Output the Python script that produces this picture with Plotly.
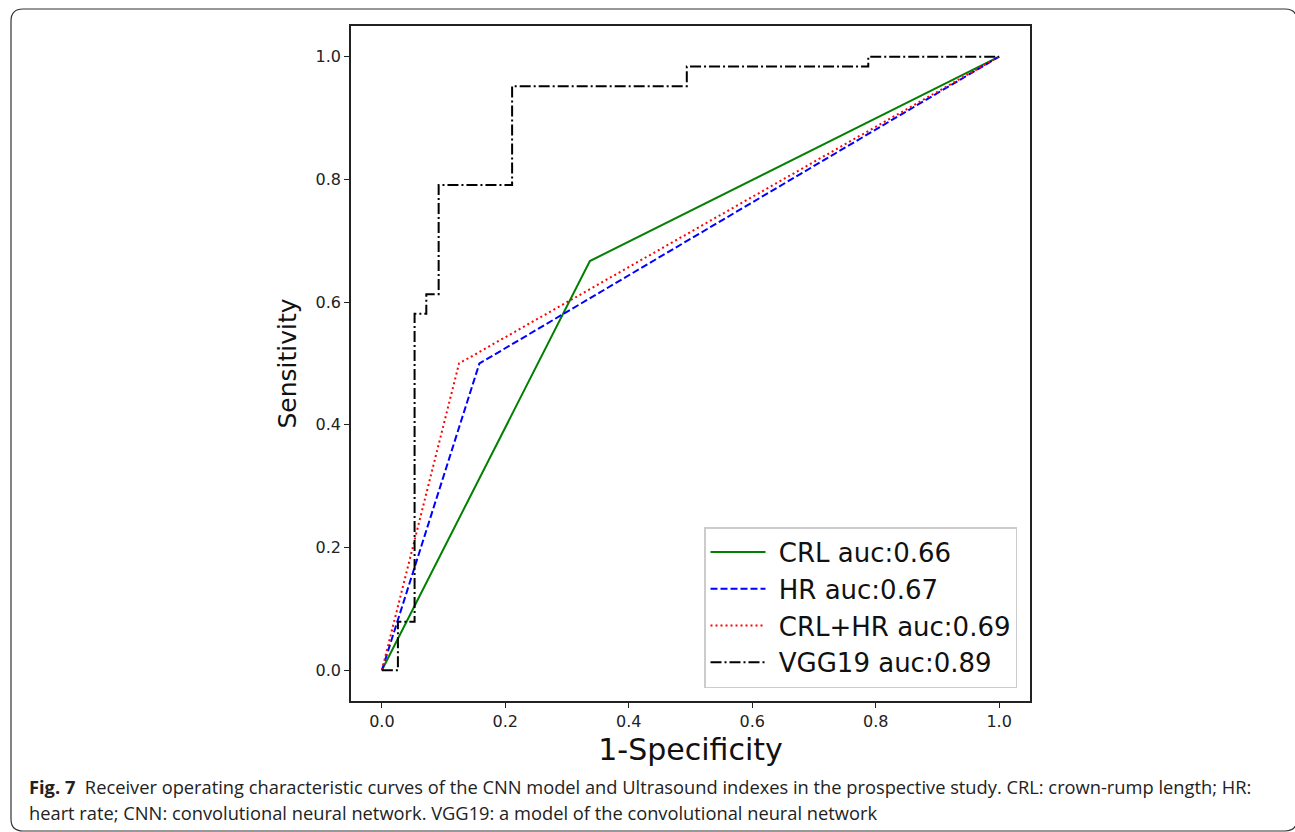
import plotly.graph_objects as go

# ---- data ----
crl_fpr = [0.0, 0.337, 1.0]
crl_tpr = [0.0, 0.667, 1.0]
hr_fpr = [0.0, 0.158, 1.0]
hr_tpr = [0.0, 0.5, 1.0]
crlhr_fpr = [0.0, 0.125, 1.0]
crlhr_tpr = [0.0, 0.5, 1.0]
vgg_fpr = [0.0, 0.026, 0.026, 0.053, 0.053, 0.072, 0.072, 0.092, 0.092, 0.211, 0.211, 0.494, 0.494, 0.788, 0.788, 1.0]
vgg_tpr = [0.0, 0.0, 0.079, 0.079, 0.581, 0.581, 0.613, 0.613, 0.791, 0.791, 0.952, 0.952, 0.984, 0.984, 1.0, 1.0]
labels = ["CRL auc:0.66", "HR auc:0.67", "CRL+HR auc:0.69", "VGG19 auc:0.89"]
ticks = [0.0, 0.2, 0.4, 0.6, 0.8, 1.0]
tick_text = ["0.0", "0.2", "0.4", "0.6", "0.8", "1.0"]
caption1 = "<b>Fig. 7</b>  Receiver operating characteristic curves of the CNN model and Ultrasound indexes in the prospective study. CRL: crown-rump length; HR:"
caption2 = "heart rate; CNN: convolutional neural network. VGG19: a model of the convolutional neural network"

W, H = 1295, 832
L, R, T, B = 351, 1030, 26, 701


def px(x):
    return (x - L) / (R - L)


def py(y):
    return (B - y) / (B - T)


gap = "\u00a0"

fig = go.Figure()
fig.add_trace(go.Scatter(x=crl_fpr, y=crl_tpr, mode="lines", name=gap + labels[0],
                         line=dict(color="#008000", width=2), legendgroup="a"))
fig.add_trace(go.Scatter(x=hr_fpr, y=hr_tpr, mode="lines", name=gap + labels[1],
                         line=dict(color="#0000ff", width=2, dash="7px,3px"), legendgroup="b"))
fig.add_trace(go.Scatter(x=crlhr_fpr, y=crlhr_tpr, mode="lines", name=gap + labels[2],
                         line=dict(color="#ff0000", width=2, dash="2px,3px"), legendgroup="c"))
fig.add_trace(go.Scatter(x=vgg_fpr, y=vgg_tpr, mode="lines", name=gap + labels[3],
                         line=dict(color="#000000", width=2, dash="11px,3px,2px,3px"), legendgroup="d"))

axis_common = dict(
    showline=True, linecolor="#222222", linewidth=1.5, mirror=True,
    ticks="outside", ticklen=5, tickwidth=1.2, tickcolor="#222222",
    showgrid=False, zeroline=False,
    tickvals=ticks, ticktext=tick_text,
    tickfont=dict(family="DejaVu Sans", size=16, color="#222222"),
)

fig.update_layout(
    width=W, height=H,
    margin=dict(l=L, r=W - R, t=T, b=H - B),
    paper_bgcolor="white", plot_bgcolor="white",
    xaxis=dict(range=[-0.05, 1.05], title=dict(text="1-Specificity", standoff=9,
               font=dict(family="DejaVu Sans", size=30, color="#111111")), **axis_common),
    yaxis=dict(range=[-0.05, 1.05], title=dict(text="Sensitivity", standoff=12,
               font=dict(family="DejaVu Sans", size=25, color="#111111")), **axis_common),
    legend=dict(x=px(1017), y=py(688), xanchor="right", yanchor="bottom",
                bgcolor="white", bordercolor="#cccccc", borderwidth=1.5,
                font=dict(family="DejaVu Sans", size=26, color="#111111"),
                itemwidth=55, tracegroupgap=5, traceorder="normal"),
    showlegend=True,
)

# outer rounded frame
x0, y0, x1, y1, r = 11, 9, 1297, 831, 12
path = (f"M {px(x0 + r)},{py(y0)} L {px(x1 - r)},{py(y0)} Q {px(x1)},{py(y0)} {px(x1)},{py(y0 + r)} "
        f"L {px(x1)},{py(y1 - r)} Q {px(x1)},{py(y1)} {px(x1 - r)},{py(y1)} "
        f"L {px(x0 + r)},{py(y1)} Q {px(x0)},{py(y1)} {px(x0)},{py(y1 - r)} "
        f"L {px(x0)},{py(y0 + r)} Q {px(x0)},{py(y0)} {px(x0 + r)},{py(y0)} Z")
fig.add_shape(type="path", path=path, xref="paper", yref="paper",
              line=dict(color="#333333", width=1.2), layer="below")

fig.add_annotation(text=caption1, xref="paper", yref="paper", x=px(27), y=py(786),
                   xanchor="left", yanchor="middle", showarrow=False,
                   font=dict(family="Open Sans", size=18.3, color="#222222"))
fig.add_annotation(text=caption2, xref="paper", yref="paper", x=px(27), y=py(812),
                   xanchor="left", yanchor="middle", showarrow=False,
                   font=dict(family="Open Sans", size=18.3, color="#222222"))

fig.write_html("out.html", config={"displayModeBar": False},
               post_script="document.body.style.margin='0px';")
